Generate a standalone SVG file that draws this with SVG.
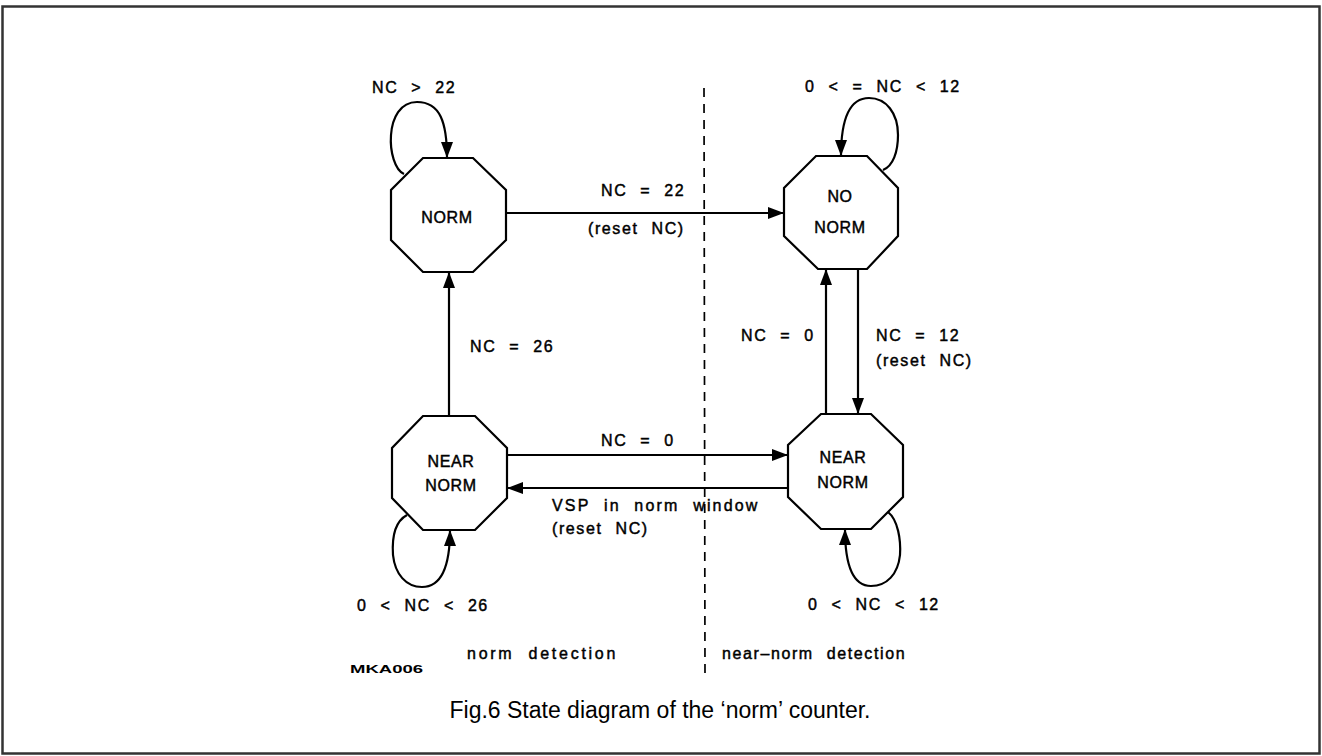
<svg xmlns="http://www.w3.org/2000/svg" width="1322" height="756" viewBox="0 0 1322 756">
<style>
.t{font-family:"Liberation Sans",Arial,sans-serif;font-size:16px;fill:#000;stroke:#000;stroke-width:0.45px;letter-spacing:1.6px;word-spacing:7px}
.n{font-family:"Liberation Sans",Arial,sans-serif;font-size:16px;fill:#000;stroke:#000;stroke-width:0.45px;letter-spacing:0.6px;text-anchor:middle}
.oct{fill:#fff;stroke:#000;stroke-width:2.2}
.ln{fill:none;stroke:#000;stroke-width:2.2}
.cap{font-family:"Liberation Sans",Arial,sans-serif;font-size:23px;fill:#000}
</style>
<defs>
<marker id="ah" markerWidth="16" markerHeight="12" refX="16" refY="6" orient="auto" markerUnits="userSpaceOnUse">
<path d="M0,0 L16,6 L0,12 Z" fill="#000"/>
</marker>
</defs>
<rect x="2.5" y="6.5" width="1317" height="747" fill="#fff" stroke="#333" stroke-width="2.5"/>
<g id="divider">
<line x1="704" y1="88" x2="705" y2="677" stroke="#000" stroke-width="1.7" stroke-dasharray="9 7"/>
</g>
<g id="connectors">
<path class="ln" d="M506,213 L784,213" marker-end="url(#ah)"/>
<path class="ln" d="M449,416 L449,272" marker-end="url(#ah)"/>
<path class="ln" d="M507,455 L788,455" marker-end="url(#ah)"/>
<path class="ln" d="M788,488 L507,488" marker-end="url(#ah)"/>
<path class="ln" d="M826,414 L826,269" marker-end="url(#ah)"/>
<path class="ln" d="M858,269 L858,414" marker-end="url(#ah)"/>
<path class="ln" d="M404,174 C386,166 383,102 417,102 C440,102 447,122 447,158" marker-end="url(#ah)"/>
<path class="ln" d="M883,170 C893,166 898,152 898,135 C898,113 886,98 869,98 C852,98 841,115 841,156" marker-end="url(#ah)"/>
<path class="ln" d="M407,515 C394,522 392,540 393,555 C395,574 406,587 422,587 C442,587 450,566 450,530" marker-end="url(#ah)"/>
<path class="ln" d="M888,512 C898,520 901,540 900,555 C898,574 887,586 871,586 C853,586 845,566 845,529" marker-end="url(#ah)"/>
</g>
<g id="norm">
<polygon class="oct" points="423,158 473,158 506,190 506,240 473,272 423,272 391,240 391,190"/>
<text class="n" x="447" y="223">NORM</text>
</g>
<g id="near-norm-left">
<polygon class="oct" points="423,416 475,416 507,448 507,498 475,530 423,530 392,498 392,448"/>
<text class="n" x="451" y="467">NEAR</text>
<text class="n" x="451" y="491">NORM</text>
</g>
<g id="no-norm">
<polygon class="oct" points="816,156 867,156 898,188 898,236 867,269 818,269 784,236 784,188"/>
<text class="n" x="840" y="202">NO</text>
<text class="n" x="840" y="233">NORM</text>
</g>
<g id="near-norm-right">
<polygon class="oct" points="821,414 871,414 903,445 903,497 871,529 821,529 788,497 788,445"/>
<text class="n" x="843" y="463">NEAR</text>
<text class="n" x="843" y="488">NORM</text>
</g>
<g id="labels">
<text class="t" x="372" y="93">NC &gt; 22</text>
<text class="t" x="805" y="92">0 &lt; = NC &lt; 12</text>
<text class="t" x="601" y="196">NC = 22</text>
<text class="t" x="588" y="234">(reset NC)</text>
<text class="t" x="470" y="352">NC = 26</text>
<text class="t" x="741" y="341">NC = 0</text>
<text class="t" x="876" y="341">NC = 12</text>
<text class="t" x="876" y="366">(reset NC)</text>
<text class="t" x="601" y="446">NC = 0</text>
<text class="t" x="552" y="511" textLength="207">VSP in norm window</text>
<text class="t" x="552" y="534">(reset NC)</text>
<text class="t" x="357" y="611">0 &lt; NC &lt; 26</text>
<text class="t" x="808" y="610">0 &lt; NC &lt; 12</text>
<text class="t" x="467" y="659" textLength="150">norm detection</text>
<text class="t" x="722" y="659">near–norm detection</text>
<text x="350" y="673" textLength="73" lengthAdjust="spacingAndGlyphs" style="font-family:'Liberation Sans',Arial,sans-serif;font-size:11px;font-weight:bold">MKA006</text>
</g>
<text class="cap" x="660" y="718" text-anchor="middle">Fig.6  State diagram of the ‘norm’ counter.</text>
</svg>
